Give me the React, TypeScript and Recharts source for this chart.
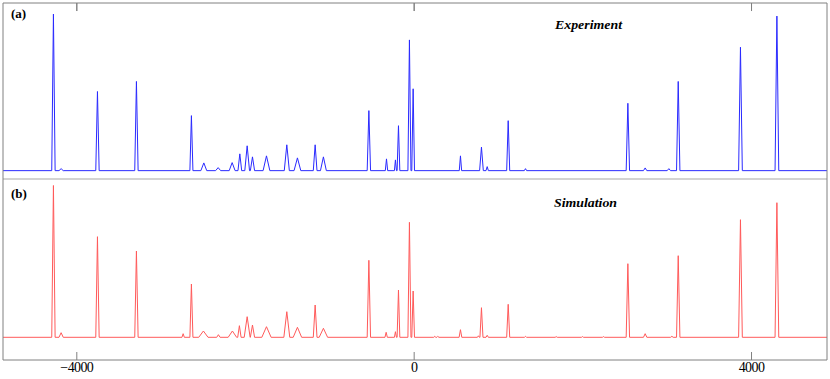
import React from 'react';
import { LineChart, Line, XAxis, YAxis, ReferenceLine } from 'recharts';

// x-axis (frequency offset) range and tick values
const X_DOMAIN: [number, number] = [-4875, 4895];
const X_TICKS = [-4000, 0, 4000];

// y ranges (relative intensity units)
const EXP_Y: [number, number] = [-8.3, 166.7];
const SIM_Y: [number, number] = [-22.7, 158.3];
const TOP_TICK_LEN = 8;

// (a) Experiment: peak positions, heights, half base widths
const expCenter = [-4277, -4186, -3755, -3293, -2641, -2494, -2324, -2158, -2067, -1980, -1917, -1751, -1510, -1384, -1174, -1076, -537, -328, -222, -186, -56, -12, 549, 798, 866, 1115, 1320, 2534, 2739, 3020, 3131, 3869, 4301];
const expHeight = [155.7, 2, 78.7, 88.7, 54.7, 7.7, 3, 8, 16.7, 24.7, 13.7, 14.7, 25.7, 12.7, 25.7, 13.7, 59.7, 11.7, 10.7, 44.7, 130, 81.4, 14.7, 23.4, 4, 49.7, 2, 67, 2.7, 2, 88.7, 122.7, 153.7];
const expHalfWidth = [20, 25, 20, 20, 18, 35, 30, 35, 22, 28, 25, 40, 30, 40, 22, 35, 20, 14, 12, 16, 18, 16, 14, 22, 14, 18, 14, 20, 20, 20, 20, 22, 22];

// (b) Simulation: peak positions, heights, half base widths
const simCenter = [-4277, -4186, -3755, -3293, -2739, -2641, -2499, -2321, -2155, -2072, -1980, -1917, -1751, -1510, -1384, -1174, -1076, -537, -332, -222, -186, -56, -12, 245, 281, 549, 762, 798, 866, 1115, 1320, 1684, 1996, 2245, 2534, 2739, 3056, 3131, 3869, 4301];
const simHeight = [151.8, 4.6, 100.6, 86.3, 3.6, 53.3, 6.3, 2.6, 6.3, 11.6, 20.6, 12.3, 10.6, 25.6, 10, 32.3, 9, 77, 5, 5.6, 47.3, 115, 46.3, 1, 1, 7.6, 1.5, 29.6, 2, 33, 1, 0.7, 0.7, 0.7, 73.6, 3.6, 1, 81.6, 117.6, 134.6];
const simHalfWidth = [20, 25, 20, 20, 14, 18, 55, 20, 50, 20, 35, 25, 55, 35, 50, 22, 50, 20, 14, 12, 16, 18, 16, 12, 12, 16, 12, 18, 14, 18, 12, 12, 12, 12, 20, 20, 15, 20, 22, 22];

type Pt = { x: number; y: number };

function buildSpectrum(center: number[], height: number[], halfWidth: number[]): Pt[] {
  const pts: Pt[] = [{ x: X_DOMAIN[0], y: 0 }, { x: X_DOMAIN[1], y: 0 }];
  center.forEach((c, i) => {
    pts.push({ x: c - halfWidth[i], y: 0 }, { x: c, y: height[i] }, { x: c + halfWidth[i], y: 0 });
  });
  return pts.sort((a, b) => a.x - b.x);
}

const expData = buildSpectrum(expCenter, expHeight, expHalfWidth);
const simData = buildSpectrum(simCenter, simHeight, simHalfWidth);

const FRAME = '#808080';
const SERIF = "'Liberation Serif', 'Times New Roman', serif";

const BottomTick = (props: any) => {
  const { x, y, payload } = props;
  const v = payload.value as number;
  const label = v < 0 ? '\u2212' + Math.abs(v) : String(v);
  return (
    <g>
      <line x1={x} y1={y - 8} x2={x} y2={y} stroke={FRAME} strokeWidth={1} />
      <text x={x} y={y + 12} textAnchor="middle" style={{ fontFamily: SERIF, fontSize: 14, letterSpacing: -0.6 }} fill="#000">
        {label}
      </text>
    </g>
  );
};

const EmptyTick = () => <g />;

const boldText = { fontFamily: SERIF, fontWeight: 700, fontSize: 13 } as React.CSSProperties;
const boldItalic = { fontFamily: SERIF, fontWeight: 700, fontStyle: 'italic', fontSize: 13 } as React.CSSProperties;

export default function App() {
  return (
    <div style={{ position: 'absolute', left: 0, top: 0, width: 830, height: 379, background: '#fff' }}>
      <div style={{ position: 'absolute', left: 0, top: 0 }}>
        <LineChart width={830} height={180} data={expData} margin={{ top: 3, right: 2, bottom: 0, left: 2 }}>
          <XAxis xAxisId="t" orientation="top" type="number" dataKey="x" domain={X_DOMAIN} allowDataOverflow ticks={X_TICKS} interval={0} height={1} mirror tickSize={8} tickMargin={0} tickLine={{ stroke: FRAME }} tick={EmptyTick} axisLine={{ stroke: FRAME }} />
          <XAxis xAxisId="b" orientation="bottom" type="number" dataKey="x" domain={X_DOMAIN} allowDataOverflow height={1} tick={false} tickLine={false} axisLine={{ stroke: '#c4c4c4', strokeWidth: 1.5 }} />
          <YAxis yAxisId="l" type="number" domain={EXP_Y} allowDataOverflow width={1} tick={false} tickLine={false} axisLine={{ stroke: FRAME }} />
          <YAxis yAxisId="r" orientation="right" type="number" domain={EXP_Y} allowDataOverflow width={1} tick={false} tickLine={false} axisLine={{ stroke: FRAME }} />
          {X_TICKS.map((t) => (
            <ReferenceLine
              key={t}
              xAxisId="t"
              yAxisId="l"
              ifOverflow="visible"
              segment={[{ x: t, y: EXP_Y[1] }, { x: t, y: EXP_Y[1] - TOP_TICK_LEN }]}
              stroke={FRAME}
              strokeWidth={1}
            />
          ))}
          <Line xAxisId="t" yAxisId="l" type="linear" dataKey="y" stroke="#2a2aff" strokeWidth={1} dot={false} isAnimationActive={false} />
        </LineChart>
      </div>
      <div style={{ position: 'absolute', left: 0, top: 179 }}>
        <LineChart width={830} height={200} data={simData} margin={{ top: 0, right: 2, bottom: 0, left: 2 }}>
          <XAxis xAxisId="b" orientation="bottom" type="number" dataKey="x" domain={X_DOMAIN} allowDataOverflow ticks={X_TICKS} interval={0} height={19} tickSize={0} tickMargin={0} tickLine={false} axisLine={{ stroke: FRAME }} tick={(p: any) => <BottomTick {...p} />} />
          <YAxis yAxisId="l" type="number" domain={SIM_Y} allowDataOverflow width={1} tick={false} tickLine={false} axisLine={{ stroke: FRAME }} />
          <YAxis yAxisId="r" orientation="right" type="number" domain={SIM_Y} allowDataOverflow width={1} tick={false} tickLine={false} axisLine={{ stroke: FRAME }} />
          <Line xAxisId="b" yAxisId="l" type="linear" dataKey="y" stroke="#ff5a5a" strokeWidth={1} dot={false} isAnimationActive={false} />
        </LineChart>
      </div>
      <svg width={830} height={379} style={{ position: 'absolute', left: 0, top: 0, pointerEvents: 'none' }}>
        <text x={11} y={17.5} style={boldText} fill="#000">(a)</text>
        <text x={11} y={197.5} style={boldText} fill="#000">(b)</text>
        <text x={555} y={28.5} style={boldItalic} fill="#000" textLength={67} lengthAdjust="spacingAndGlyphs">Experiment</text>
        <text x={554} y={206.5} style={boldItalic} fill="#000" textLength={63} lengthAdjust="spacingAndGlyphs">Simulation</text>
      </svg>
    </div>
  );
}
